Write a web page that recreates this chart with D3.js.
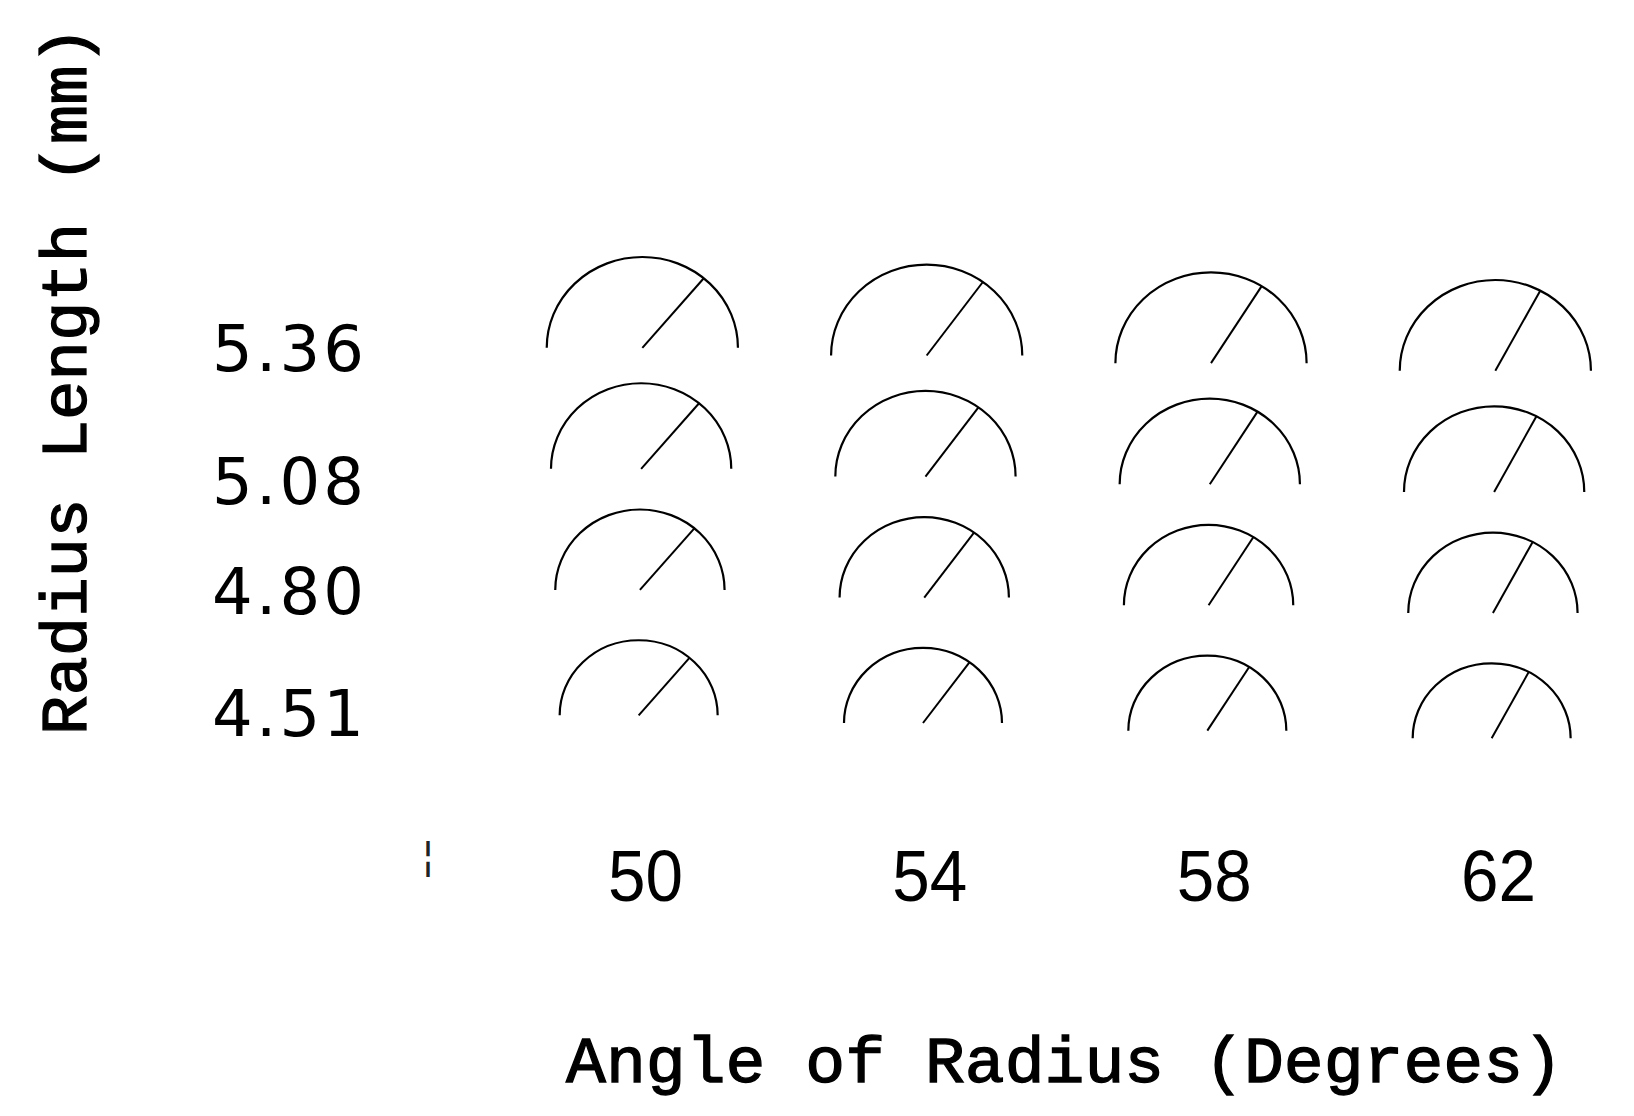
<!DOCTYPE html>
<html>
<head>
<meta charset="utf-8">
<script src="https://cdn.jsdelivr.net/npm/d3@7"></script>
<style>
  html, body { margin: 0; padding: 0; background: #ffffff; }
  svg { display: block; }
</style>
</head>
<body>
<div id="chart"></div>
<script>
// ---- data ----
const angles = [50, 54, 58, 62];                 // angle of radius (degrees)
const radii = [5.36, 5.08, 4.80, 4.51];          // radius length (mm)
const xTickLabels = ["50", "54", "58", "62"];
const yTickLabels = ["5.36", "5.08", "4.80", "4.51"];
const xTitle = "Angle of Radius (Degrees)";
const yTitle = "Radius Length (mm)";

// ---- layout ----
const W = 1634, H = 1116;
const svg = d3.select("#chart").append("svg")
  .attr("width", W).attr("height", H)
  .attr("viewBox", `0 0 ${W} ${H}`);
svg.append("rect").attr("width", W).attr("height", H).attr("fill", "#fff");

const x = d3.scaleLinear().domain([50, 62]).range([640.5, 1493.5]);
const y = d3.scaleLinear().domain([4.51, 5.36]).range([726.8, 359.3]);
const r = d3.scaleLinear().domain([4.51, 5.36]).range([79.0, 95.6]);
const squash = 0.95;          // glyphs slightly flatter than round
const driftY = 0.027, driftX = -0.01;   // slight tilt of the glyph grid
const xMid = 1066, yMid = 543;

const cells = [];
radii.forEach(v => angles.forEach(a => cells.push({a, v})));

const g = svg.append("g");
const glyph = g.selectAll("g.glyph").data(cells).join("g")
  .attr("class", "glyph")
  .attr("transform", d => {
    const px = x(d.a), py = y(d.v);
    const cx = px + driftX * (py - yMid);
    const cy = py + driftY * (px - xMid);
    return `translate(${cx},${cy}) scale(1,${squash})`;
  });

glyph.append("path")
  .attr("d", d => {
    const p = d3.path();
    p.arc(0, 0, r(d.v), Math.PI, 2 * Math.PI);
    return p.toString();
  })
  .attr("fill", "none")
  .attr("stroke", "#000")
  .attr("stroke-width", 2.2)
  .attr("vector-effect", "non-scaling-stroke");

const radial = d3.lineRadial();
glyph.append("path")
  .attr("d", d => radial([[0, 0], [Math.PI / 2 - d.a * Math.PI / 180, r(d.v)]]))
  .attr("fill", "none")
  .attr("stroke", "#000")
  .attr("stroke-width", 2)
  .attr("vector-effect", "non-scaling-stroke");

// ---- x tick labels ----
svg.append("g").selectAll("text").data(angles).join("text")
  .attr("x", d => x(d) + 5)
  .attr("y", 901)
  .attr("text-anchor", "middle")
  .attr("font-family", "'Liberation Sans', Arial, sans-serif")
  .attr("font-size", 72)
  .attr("textLength", 75)
  .attr("lengthAdjust", "spacingAndGlyphs")
  .attr("fill", "#000")
  .text((d, i) => xTickLabels[i]);

// ---- y tick labels ----
const yLabelOffsets = [-12, 0, -11, -15];
svg.append("g").selectAll("text").data(radii).join("text")
  .attr("x", 212)
  .attr("y", (d, i) => y(d) + 24 + yLabelOffsets[i])
  .attr("font-family", "'DejaVu Sans', sans-serif")
  .attr("font-size", 64)
  .attr("textLength", 152)
  .attr("lengthAdjust", "spacing")
  .attr("fill", "#000")
  .text((d, i) => yTickLabels[i]);

// ---- stray scan mark ----
svg.append("text")
  .attr("x", 428).attr("y", 870)
  .attr("text-anchor", "middle")
  .attr("font-family", "'DejaVu Sans', sans-serif")
  .attr("font-size", 40)
  .attr("fill", "#222")
  .text("\u00A6");

// ---- axis titles ----
svg.append("text")
  .attr("x", 566).attr("y", 1082)
  .attr("font-family", "'Liberation Mono', 'Courier New', monospace")
  .attr("font-size", 65)
  .attr("textLength", 997)
  .attr("lengthAdjust", "spacingAndGlyphs")
  .attr("fill", "#000")
  .attr("stroke", "#000")
  .attr("stroke-width", 1.3)
  .text(xTitle);

svg.append("text")
  .attr("transform", "translate(86,735) rotate(-90)")
  .attr("x", 0).attr("y", 0)
  .attr("font-family", "'Liberation Mono', 'Courier New', monospace")
  .attr("font-size", 64)
  .attr("textLength", 709)
  .attr("lengthAdjust", "spacingAndGlyphs")
  .attr("fill", "#000")
  .attr("stroke", "#000")
  .attr("stroke-width", 1.3)
  .text(yTitle);
</script>
</body>
</html>
